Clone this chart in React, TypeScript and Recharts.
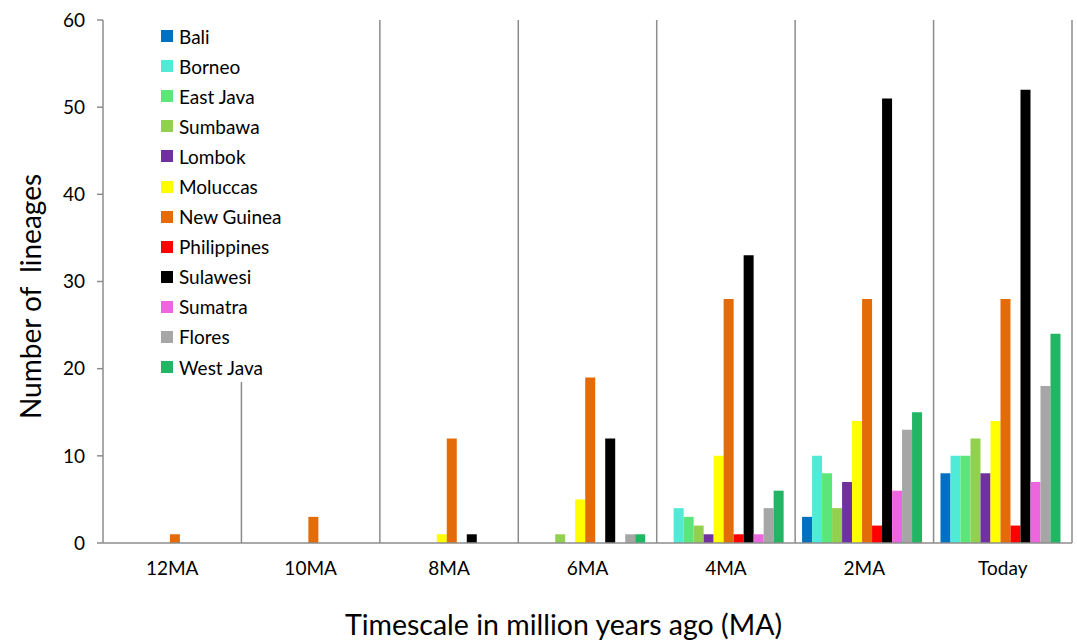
import React from 'react';
import { BarChart, Bar, XAxis, YAxis, Legend, ReferenceLine } from 'recharts';

const categories = ['12MA', '10MA', '8MA', '6MA', '4MA', '2MA', 'Today'];
const regions = ['Bali', 'Borneo', 'East Java', 'Sumbawa', 'Lombok', 'Moluccas', 'New Guinea', 'Philippines', 'Sulawesi', 'Sumatra', 'Flores', 'West Java'];
const colors = ['#0070C0', '#50EBD7', '#5CE67A', '#92D050', '#7030A0', '#FFFF00', '#E36C09', '#FF0000', '#000000', '#EE66DD', '#A6A6A6', '#22B563'];

const bali = [0, 0, 0, 0, 0, 3, 8];
const borneo = [0, 0, 0, 0, 4, 10, 10];
const eastJava = [0, 0, 0, 0, 3, 8, 10];
const sumbawa = [0, 0, 0, 1, 2, 4, 12];
const lombok = [0, 0, 0, 0, 1, 7, 8];
const moluccas = [0, 0, 1, 5, 10, 14, 14];
const newGuinea = [1, 3, 12, 19, 28, 28, 28];
const philippines = [0, 0, 0, 0, 1, 2, 2];
const sulawesi = [0, 0, 1, 12, 33, 51, 52];
const sumatra = [0, 0, 0, 0, 1, 6, 7];
const flores = [0, 0, 0, 1, 4, 13, 18];
const westJava = [0, 0, 0, 1, 6, 15, 24];

const yTicks = [0, 10, 20, 30, 40, 50, 60];

const seriesValues = [bali, borneo, eastJava, sumbawa, lombok, moluccas, newGuinea, philippines, sulawesi, sumatra, flores, westJava];

const data = categories.map((c, i) => {
  const row: Record<string, string | number> = { category: c };
  regions.forEach((r, k) => {
    row[r] = seriesValues[k][i];
  });
  return row;
});

const FONT = 'Lato, "Open Sans", sans-serif';
const AXIS = '#8C8C8C';

const renderLegend = () => (
  <div style={{ background: '#fff', padding: '3px 8px 0px 6px', fontFamily: FONT }}>
    {regions.map((r, k) => (
      <div key={r} style={{ display: 'flex', alignItems: 'center', height: 30.1, fontSize: 19, color: '#000', whiteSpace: 'nowrap' }}>
        <span style={{ display: 'inline-block', width: 12, height: 12, background: colors[k], marginRight: 6 }} />
        {r}
      </div>
    ))}
  </div>
);

export default function App() {
  return (
    <div style={{ position: 'absolute', left: 0, top: 0, background: '#fff' }}>
      <BarChart
        width={1077}
        height={642}
        data={data}
        margin={{ top: 20, right: 5, left: 43, bottom: 0 }}
        barCategoryGap="5%"
        barGap={0}
      >
        <XAxis
          dataKey="category"
          height={99}
          stroke={AXIS}
          strokeWidth={1.5}
          tickLine={false}
          tickSize={0}
          tickMargin={19}
          tick={{ fill: '#000', fontSize: 19, fontFamily: FONT }}
          label={{ value: 'Timescale in million years ago (MA)', position: 'insideBottom', offset: 7, dx: -24, style: { fontSize: 28.5, fontFamily: FONT, fill: '#000' } }}
        />
        <YAxis
          width={60}
          domain={[0, 60]}
          ticks={yTicks}
          stroke={AXIS}
          strokeWidth={1.5}
          tickSize={6}
          tickMargin={12}
          tick={{ fill: '#000', fontSize: 19, fontFamily: FONT }}
          label={{ value: 'Number of\u00A0 lineages', angle: -90, position: 'center', dx: -42, dy: 15, style: { fontSize: 28, fontFamily: FONT, fill: '#000' } }}
        />
        {categories.slice(1).map((c) => (
          <ReferenceLine key={c} x={c} position="start" stroke={AXIS} strokeWidth={1.5} />
        ))}
        <ReferenceLine x={categories[categories.length - 1]} position="end" stroke={AXIS} strokeWidth={1.5} />
        {regions.map((r, k) => (
          <Bar key={r} dataKey={r} fill={colors[k]} isAnimationActive={false} />
        ))}
        <Legend
          layout="vertical"
          align="center"
          verticalAlign="middle"
          content={renderLegend}
          wrapperStyle={{ position: 'absolute', left: 155, top: 18, width: 'auto', height: 'auto', bottom: 'auto' }}
        />
      </BarChart>
    </div>
  );
}
